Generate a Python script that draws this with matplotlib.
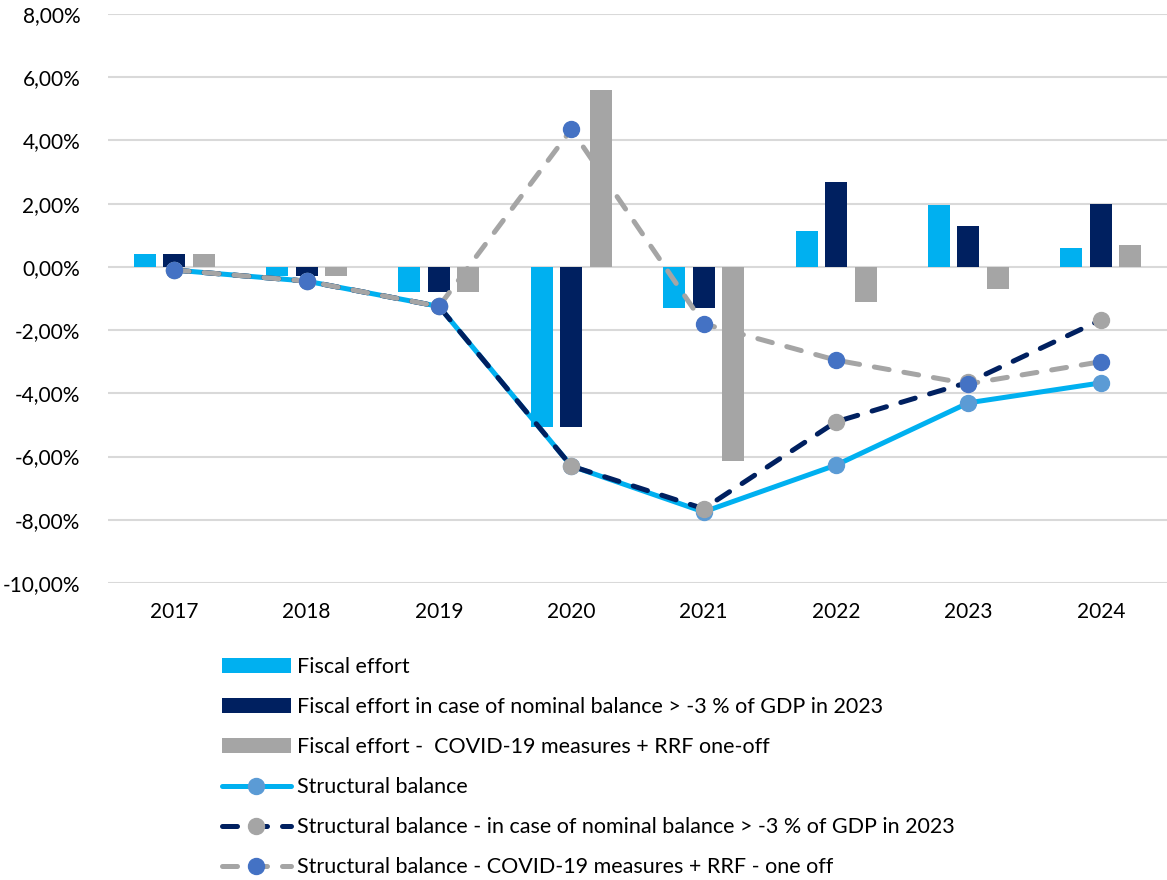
import matplotlib
matplotlib.use("Agg")
import matplotlib.pyplot as plt
import numpy as np
from matplotlib.ticker import FuncFormatter, MultipleLocator

years = ["2017", "2018", "2019", "2020", "2021", "2022", "2023", "2024"]

fiscal_effort = [0.40, -0.30, -0.80, -5.05, -1.30, 1.15, 1.95, 0.60]
fiscal_effort_nominal = [0.40, -0.30, -0.80, -5.05, -1.30, 2.70, 1.30, 2.00]
fiscal_effort_covid = [0.40, -0.30, -0.80, 5.60, -6.15, -1.10, -0.70, 0.70]

structural_balance = [-0.10, -0.45, -1.25, -6.30, -7.75, -6.27, -4.30, -3.67]
structural_nominal = [-0.10, -0.45, -1.25, -6.30, -7.65, -4.90, -3.65, -1.68]
structural_covid = [-0.10, -0.45, -1.25, 4.35, -1.80, -2.95, -3.70, -3.00]

labels = [
    "Fiscal effort",
    "Fiscal effort in case of nominal balance > -3 % of GDP in 2023",
    "Fiscal effort -  COVID-19 measures + RRF one-off",
    "Structural balance",
    "Structural balance - in case of nominal balance > -3 % of GDP in 2023",
    "Structural balance - COVID-19 measures + RRF - one off",
]

LIGHT = "#00B0F0"
NAVY = "#002060"
GRAY = "#A5A5A5"
STEEL = "#5B9BD5"
BLUE = "#4472C4"

plt.rcParams["font.family"] = ["Lato", "DejaVu Sans"]

fig = plt.figure(figsize=(11.67, 8.8), dpi=100)
ax = fig.add_axes([108 / 1167, 1 - 583 / 880, 1059 / 1167, 569 / 880])

x = np.arange(len(years))
off = 0.223
w = 0.166
b1 = ax.bar(x - off, fiscal_effort, w, color=LIGHT, zorder=2)
b2 = ax.bar(x, fiscal_effort_nominal, w, color=NAVY, zorder=2)
b3 = ax.bar(x + off, fiscal_effort_covid, w, color=GRAY, zorder=2)

lw = 3.6
ms = 11.5
l1, = ax.plot(x, structural_balance, color=LIGHT, lw=lw, marker="o", ms=ms,
              markerfacecolor=STEEL, markeredgecolor=STEEL, zorder=3,
              solid_capstyle="round")
l2, = ax.plot(x, structural_nominal, color=NAVY, lw=lw, marker="o", ms=ms,
              markerfacecolor=GRAY, markeredgecolor=GRAY, zorder=4,
              dashes=(3, 3), dash_capstyle="round")
l3, = ax.plot(x, structural_covid, color=GRAY, lw=lw, marker="o", ms=ms,
              markerfacecolor=BLUE, markeredgecolor=BLUE, zorder=5,
              dashes=(3, 3), dash_capstyle="round")

ax.set_xlim(-0.5, len(years) - 0.5)
ax.set_ylim(-10, 8)
ax.yaxis.set_major_locator(MultipleLocator(2))
ax.yaxis.set_major_formatter(FuncFormatter(lambda v, p: f"{v:.2f}".replace(".", ",") + "%"))
ax.set_xticks(x)
ax.set_xticklabels(years)
ax.grid(axis="y", color="#D9D9D9", lw=1.5, zorder=0)
ax.set_axisbelow(True)
for s in ax.spines.values():
    s.set_visible(False)
ax.tick_params(axis="both", length=0, labelsize=15, colors="#000000")
ax.tick_params(axis="y", pad=20)
ax.tick_params(axis="x", pad=14)

leg = fig.legend([b1, b2, b3, l1, l2, l3], labels, loc="upper left",
                 bbox_to_anchor=(222 / 1167, 1 - 657 / 880), frameon=False,
                 fontsize=15.5, handlelength=3.2, handletextpad=0.3,
                 labelspacing=0.93, borderaxespad=0, borderpad=0)

fig.savefig("out.png", dpi=100)
